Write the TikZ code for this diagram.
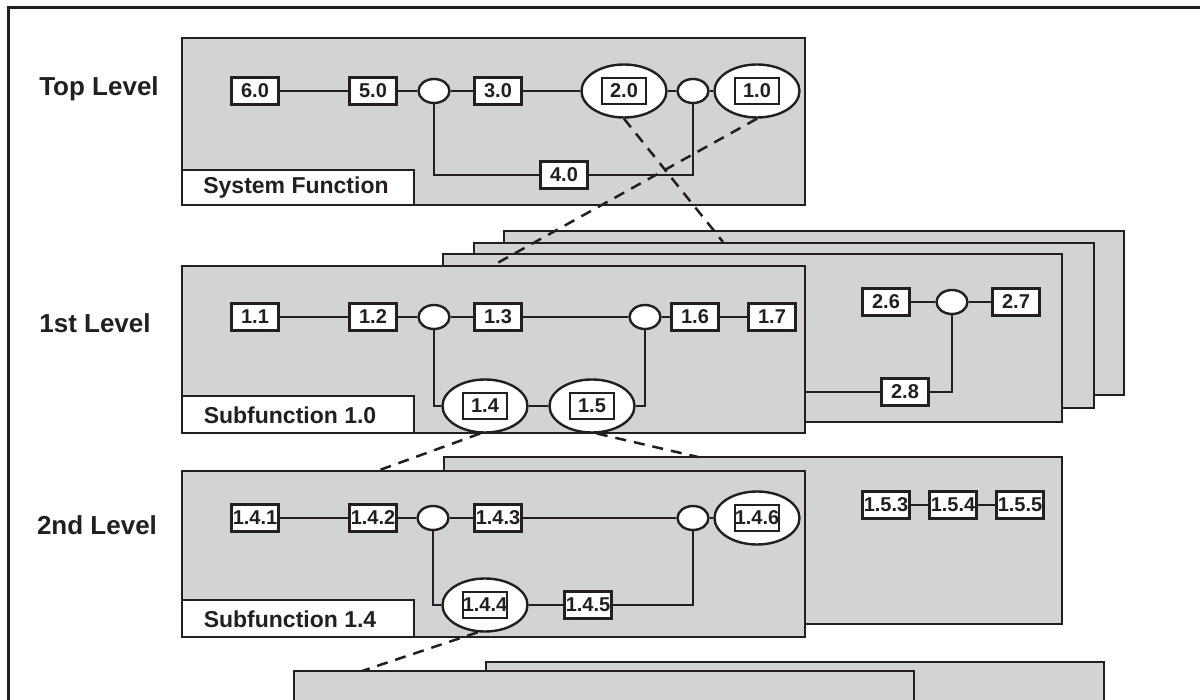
\documentclass[tikz,border=0pt]{standalone}
\usepackage{fontspec}
\setmainfont{Liberation Sans}
\usetikzlibrary{shapes.geometric}
\definecolor{panelgray}{RGB}{209,211,212}
\definecolor{ink}{RGB}{35,31,32}
\begin{document}
\begin{tikzpicture}[x=1pt,y=-1pt,
 panel/.style={draw=ink,fill=panelgray,line width=2.8pt},
 labelbox/.style={draw=ink,fill=white,line width=2.8pt},
 fbox/.style={draw=ink,fill=white,line width=2.4pt,minimum width=47pt,minimum height=27pt,inner sep=0pt,text=ink,font=\fontsize{20}{22}\selectfont\bfseries},
 ibox/.style={fbox,minimum width=44pt,minimum height=26pt},
 jct/.style={ellipse,draw=ink,fill=white,line width=2.4pt,minimum width=31pt,minimum height=24pt,inner sep=0pt},
 bigell/.style={ellipse,draw=ink,fill=white,line width=2.4pt,minimum width=85pt,minimum height=53pt,inner sep=0pt},
 conn/.style={draw=ink,line width=2.5pt},
 dashlink/.style={draw=ink,line width=2.5pt,dash pattern=on 11pt off 8pt},
 lvl/.style={font=\fontsize{26}{28}\selectfont\bfseries,text=ink},
 tag/.style={font=\fontsize{23}{25}\selectfont\bfseries,text=ink}
]
\useasboundingbox (0,0) rectangle (1200,700);
\clip (0,0) rectangle (1200,700);
\fill[white] (0,0) rectangle (1200,700);
% outer frame
\draw[ink,line width=3pt] (8,730) -- (8,8) -- (1230,8);

% level labels
\node[lvl] (ltop) at (99,89) {Top Level};
\node[lvl] (lfirst) at (95,323) {1st Level};
\node[lvl] (lsecond) at (97,525) {2nd Level};

% ---------------- Top level ----------------
\draw[panel] (182,38) rectangle (805,205);
\draw[labelbox] (182,170) rectangle (414,205);
\node[tag] (tsys) at (296,188) {System Function};
\node[fbox] (b60) at (255,91) {6.0};
\node[fbox] (b50) at (373,91) {5.0};
\node[jct] (jt1) at (434,91) {};
\node[fbox] (b30) at (498,91) {3.0};
\node[bigell] (e20) at (624,91) {};
\node[ibox] (b20) at (624,91) {2.0};
\node[jct] (jt2) at (693,91) {};
\node[bigell] (e10) at (757,91) {};
\node[ibox] (b10) at (757,91) {1.0};
\node[fbox] (b40) at (564,175) {4.0};
\draw[conn] (b60) -- (b50);
\draw[conn] (b50) -- (jt1);
\draw[conn] (jt1) -- (b30);
\draw[conn] (b30) -- (e20);
\draw[conn] (e20) -- (jt2);
\draw[conn] (jt2) -- (e10);
\draw[conn] (jt1) |- (b40);
\draw[conn] (b40) -| (jt2);

% ---------------- 1st level ----------------
\draw[panel] (504,231) rectangle (1124,395);
\draw[panel] (474,243) rectangle (1094,408);
\draw[panel] (443,254) rectangle (1062,422);
\node[fbox] (b26) at (886,302) {2.6};
\node[jct] (jb) at (952,302) {};
\node[fbox] (b27) at (1016,302) {2.7};
\node[fbox] (b28) at (905,392) {2.8};
\coordinate (c28) at (805,392);
\draw[conn] (b26) -- (jb);
\draw[conn] (jb) -- (b27);
\draw[conn] (jb) |- (b28);
\draw[conn] (b28) -- (c28);

\draw[panel] (182,266) rectangle (805,433);
\draw[labelbox] (182,396) rectangle (414,433);
\node[tag] (tsub10) at (290,415) {Subfunction 1.0};
\node[fbox] (b11) at (255,317) {1.1};
\node[fbox] (b12) at (373,317) {1.2};
\node[jct] (j11) at (434,317) {};
\node[fbox] (b13) at (498,317) {1.3};
\node[jct] (j12) at (645,317) {};
\node[fbox] (b16) at (695,317) {1.6};
\node[fbox] (b17) at (772,317) {1.7};
\node[bigell] (e14) at (485,406) {};
\node[ibox] (b14) at (485,406) {1.4};
\node[bigell] (e15) at (592,406) {};
\node[ibox] (b15) at (592,406) {1.5};
\draw[conn] (b11) -- (b12);
\draw[conn] (b12) -- (j11);
\draw[conn] (j11) -- (b13);
\draw[conn] (b13) -- (j12);
\draw[conn] (j12) -- (b16);
\draw[conn] (b16) -- (b17);
\draw[conn] (j11) |- (e14);
\draw[conn] (e14) -- (e15);
\draw[conn] (e15) -| (j12);

% ---------------- 2nd level ----------------
\draw[panel] (444,457) rectangle (1062,624);
\node[fbox] (b153) at (886,505) {1.5.3};
\node[fbox] (b154) at (953,505) {1.5.4};
\node[fbox] (b155) at (1020,505) {1.5.5};
\draw[conn] (b153) -- (b154);
\draw[conn] (b154) -- (b155);

\draw[panel] (182,471) rectangle (805,637);
\draw[labelbox] (182,600) rectangle (414,637);
\node[tag] (tsub14) at (290,619) {Subfunction 1.4};
\node[fbox] (b141) at (255,518) {1.4.1};
\node[fbox] (b142) at (373,518) {1.4.2};
\node[jct] (j21) at (433,518) {};
\node[fbox] (b143) at (498,518) {1.4.3};
\node[jct] (j22) at (693,518) {};
\node[bigell] (e146) at (757,518) {};
\node[ibox] (b146) at (757,518) {1.4.6};
\node[bigell] (e144) at (485,605) {};
\node[ibox] (b144) at (485,605) {1.4.4};
\node[fbox] (b145) at (588,605) {1.4.5};
\draw[conn] (b141) -- (b142);
\draw[conn] (b142) -- (j21);
\draw[conn] (j21) -- (b143);
\draw[conn] (b143) -- (j22);
\draw[conn] (j22) -- (e146);
\draw[conn] (j21) |- (e144);
\draw[conn] (e144) -- (b145);
\draw[conn] (b145) -| (j22);

% ---------------- 3rd level ----------------
\draw[panel] (486,662) rectangle (1104,730);
\draw[panel] (294,671) rectangle (914,730);

% ---------------- dashed links ----------------
\coordinate (d20end) at (723,242);
\coordinate (d10end) at (492,266);
\coordinate (d14end) at (377,471);
\coordinate (d15end) at (698,457);
\coordinate (d144end) at (362,671);
\draw[dashlink] (e20.south) -- (d20end);
\draw[dashlink] (e10.south) -- (d10end);
\draw[dashlink] (e14.-100) -- (d14end);
\draw[dashlink] (e15.-80) -- (d15end);
\draw[dashlink] (e144.-105) -- (d144end);
\end{tikzpicture}
\end{document}
